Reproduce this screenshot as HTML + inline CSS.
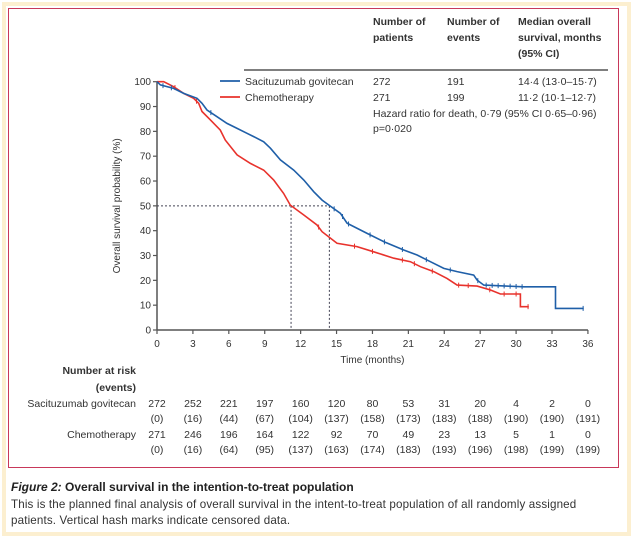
<!DOCTYPE html>
<html><head><meta charset="utf-8"><style>
html,body{margin:0;padding:0;background:#fff;}
body{width:633px;height:542px;position:relative;overflow:hidden;font-family:"Liberation Sans",sans-serif;}
.t{position:absolute;white-space:nowrap;color:#333;}
</style></head><body>
<div style="position:absolute;left:2px;top:2px;width:621px;height:526px;border:4px solid #fcefd0;"></div>
<div style="position:absolute;left:8px;top:8px;width:609px;height:458px;border:1.5px solid #c8385a;"></div>
<svg id="chart" width="633" height="542" style="position:absolute;left:0;top:0" font-family="Liberation Sans, sans-serif"></svg>
<div class="t" style="left:11px;top:480px;font-size:12px;font-weight:bold;color:#222"><i>Figure 2:</i> Overall survival in the intention-to-treat population</div>
<div class="t" style="left:11px;top:497px;font-size:11.6px;line-height:16px;color:#333;letter-spacing:0.15px">This is the planned final analysis of overall survival in the intent-to-treat population of all randomly assigned<br>patients. Vertical hash marks indicate censored data.</div>
<script>
const monthTicks=[0,3,6,9,12,15,18,21,24,27,30,33,36];
const pctTicks=[0,10,20,30,40,50,60,70,80,90,100];
const sgMonths=[0,0.28,1.39,2.23,3.34,3.76,4.18,5.01,5.85,6.69,7.52,8.08,8.91,9.47,10.31,11.42,12.26,13.09,13.79,14.48,15.32,15.88,17.55,18.94,20.61,21.73,22.84,23.96,25.07,26.46,26.74,27.3,30.64,33.29,33.29,35.65];
const sgSurv=[100,98.7,97.3,95.3,93.3,91.3,88.6,85.9,83.2,81.2,79.2,77.9,75.8,73.2,68.5,64.4,60.4,55.7,52.3,49.9,47,43,38.9,35.6,32.2,30.2,27.5,24.8,23.5,22.1,20.1,18.1,17.4,17.4,8.7,8.7];
const chMonths=[0,0.56,1.39,2.23,3.06,3.48,3.76,4.46,5.29,5.71,6.69,7.8,8.91,9.75,10.58,11.14,12.26,13.37,13.79,15.04,16.71,18.1,19.78,21.17,22.01,23.12,24.23,25.07,26.74,27.86,28.69,30.36,30.36,31.06];
const chSurv=[100,100,98,95.3,93.3,91.3,88,84.6,80.5,76.5,70.5,67.1,64.4,60.4,55,50.3,46.3,42.3,39.6,34.9,33.6,31.5,28.9,27.5,25.5,23.5,20.8,18.1,17.7,16.1,14.5,14.5,9.4,9.4];
const sgCensor=[0.5,1.2,4.5,14.8,15.5,16,17.8,19,20.5,22.5,24.5,26.8,27.5,28,28.5,29,29.5,30,30.5,35.6];
const chCensor=[1.5,3.3,13.5,16.5,18,20.5,21.5,23,25.2,26,27.8,29,30,31];
const medianSG=14.4, medianCH=11.2;
const sgRisk=['272','252','221','197','160','120','80','53','31','20','4','2','0'];
const sgEvents=['(0)','(16)','(44)','(67)','(104)','(137)','(158)','(173)','(183)','(188)','(190)','(190)','(191)'];
const chRisk=['271','246','196','164','122','92','70','49','23','13','5','1','0'];
const chEvents=['(0)','(16)','(64)','(95)','(137)','(163)','(174)','(183)','(193)','(196)','(198)','(199)','(199)'];

const svg=document.getElementById('chart');
const NS='http://www.w3.org/2000/svg';
const X=m=>157+m*11.97;
const Y=p=>330-p*2.483;
function mk(tag,attrs,parent){const e=document.createElementNS(NS,tag);for(const k in attrs)e.setAttribute(k,attrs[k]);(parent||svg).appendChild(e);return e;}
function txt(x,y,s,attrs){const e=mk('text',Object.assign({x:x,y:y,'font-size':10,fill:'#333'},attrs));e.textContent=s;return e;}
function interp(ms,ss,m){for(let i=1;i<ms.length;i++){if(ms[i]>=m){const a=ms[i-1],b=ms[i];const t=b>a?(m-a)/(b-a):1;return ss[i-1]+(ss[i]-ss[i-1])*t;}}return ss[ss.length-1];}

let e=mk('line',{x1:X(0),y1:Y(0),x2:X(36),y2:Y(0),stroke:'#555','stroke-width':1.5});

e=mk('line',{x1:X(0),y1:Y(0),x2:X(0),y2:Y(100),stroke:'#555','stroke-width':1.5});

monthTicks.forEach(m=>{mk('line',{x1:X(m),y1:Y(0),x2:X(m),y2:Y(0)+4,stroke:'#555','stroke-width':1.2});
 const t=txt(X(m),Y(0)+17,String(m),{'text-anchor':'middle'});
 });
pctTicks.forEach(p=>{mk('line',{x1:X(0)-4,y1:Y(p),x2:X(0),y2:Y(p),stroke:'#555','stroke-width':1.2});
 const t=txt(X(0)-6,Y(p)+3.5,String(p),{'text-anchor':'end'});
 });
e=txt(X(18),363,'Time (months)',{'text-anchor':'middle'});

e=txt(0,0,'Overall survival probability (%)',{'text-anchor':'middle',transform:'translate(120,'+Y(50)+') rotate(-90)'});


e=mk('path',{d:`M${X(0)},${Y(50)}H${X(medianSG)}M${X(medianCH)},${Y(50)}V${Y(0)}M${X(medianSG)},${Y(50)}V${Y(0)}`,stroke:'#445',fill:'none','stroke-dasharray':'2,2','stroke-width':1});


function curve(ms,ss,cen,color,name){
 const d=ms.map((m,i)=>(i?'L':'M')+X(m).toFixed(1)+','+Y(ss[i]).toFixed(1)).join('');
 const p=mk('path',{d:d,stroke:color,fill:'none','stroke-width':1.6});
 
 
 cen.forEach(c=>{const y=Y(interp(ms,ss,c));const l=mk('line',{x1:X(c),y1:y-2.5,x2:X(c),y2:y+2.5,stroke:color,'stroke-width':1});
  
  });
}
curve(chMonths,chSurv,chCensor,'#e8322c','chemotherapy');
curve(sgMonths,sgSurv,sgCensor,'#1f5fa8','sacituzumab');

e=mk('line',{x1:244,y1:70,x2:608,y2:70,stroke:'#555','stroke-width':1.5});

[[373,'Number of','patients'],[447,'Number of','events'],[518,'Median overall','survival, months','(95% CI)']].forEach(h=>{
 h.slice(1).forEach((s,i)=>{const t=txt(h[0],25+i*16,s,{'font-size':10.5,'font-weight':'bold',fill:'#333'});
 });});
e=mk('line',{x1:220,y1:81,x2:240,y2:81,stroke:'#1f5fa8','stroke-width':1.8});

e=mk('line',{x1:220,y1:97,x2:240,y2:97,stroke:'#e8322c','stroke-width':1.8});

[[85,'Sacituzumab govitecan','272','191','14·4 (13·0–15·7)'],[101,'Chemotherapy','271','199','11·2 (10·1–12·7)']].forEach(r=>{
 [[245,r[1]],[373,r[2]],[447,r[3]],[518,r[4]]].forEach(c=>{const t=txt(c[0],r[0],c[1],{'font-size':10.5});
 });});
e=txt(373,117,'Hazard ratio for death, 0·79 (95% CI 0·65–0·96)',{'font-size':10.5});

e=txt(373,132,'p=0·020',{'font-size':10.5});


e=txt(136,374,'Number at risk',{'text-anchor':'end','font-weight':'bold','font-size':10.5});

e=txt(136,391,'(events)',{'text-anchor':'end','font-weight':'bold','font-size':10.5});

e=txt(136,407,'Sacituzumab govitecan',{'text-anchor':'end','font-size':10.5});

e=txt(136,438,'Chemotherapy',{'text-anchor':'end','font-size':10.5});

[[sgRisk,407],[sgEvents,422],[chRisk,438],[chEvents,453]].forEach(r=>{
 r[0].forEach((s,i)=>{const t=txt(X(monthTicks[i]),r[1],s,{'text-anchor':'middle','font-size':10.5});
 });});
</script>
</body></html>
